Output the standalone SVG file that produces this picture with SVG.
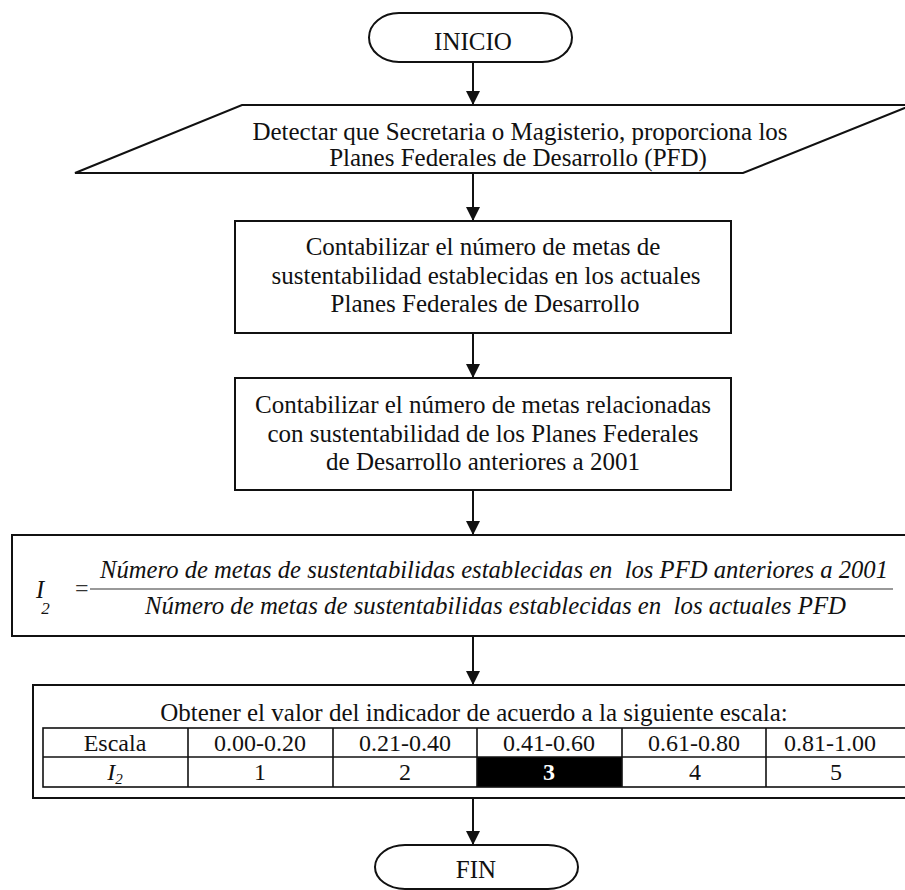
<svg xmlns="http://www.w3.org/2000/svg" width="905" height="890" viewBox="0 0 905 890">
  <defs>
    <marker id="arrow" markerUnits="userSpaceOnUse" markerWidth="14" markerHeight="14" refX="14" refY="7" orient="auto">
      <path d="M0,0 L14,7 L0,14 Z" fill="#111"/>
    </marker>
    <style>
      .shape { fill: #fff; stroke: #111; stroke-width: 2; }
      .cell { fill: none; stroke: #111; stroke-width: 1.6; }
      .txt { font-family: "Liberation Serif", "Times New Roman", serif; font-size: 25px; fill: #111; text-anchor: middle; }
      .tbl { font-family: "Liberation Serif", "Times New Roman", serif; font-size: 24px; fill: #111; text-anchor: middle; }
      .tbl.inv { fill: #fff; font-weight: bold; }
      .frm { font-family: "Liberation Serif", "Times New Roman", serif; font-style: italic; font-size: 24.5px; fill: #111; }
      .conn { stroke: #111; stroke-width: 2; fill: none; marker-end: url(#arrow); }
    </style>
  </defs>
  <rect width="905" height="890" fill="#fff"/>

  <!-- start terminator -->
  <g id="inicio">
    <rect class="shape" x="369" y="13" width="203" height="49" rx="30" ry="24.5"/>
    <text class="txt" x="473" y="50">INICIO</text>
  </g>

  <!-- input: data source -->
  <g id="detectar">
    <polygon class="shape" points="242,105 912,105 743,173 75,173"/>
    <text class="txt" x="520" y="140">Detectar que Secretaria o Magisterio, proporciona los</text>
    <text class="txt" x="518" y="166">Planes Federales de Desarrollo (PFD)</text>
  </g>

  <!-- count current goals -->
  <g id="contar-actuales">
    <rect class="shape" x="235" y="221" width="496" height="112"/>
    <text class="txt" x="483" y="255">Contabilizar el número de metas de</text>
    <text class="txt" x="486" y="284">sustentabilidad establecidas en los actuales</text>
    <text class="txt" x="485" y="312">Planes Federales de Desarrollo</text>
  </g>

  <!-- count previous goals -->
  <g id="contar-anteriores">
    <rect class="shape" x="235" y="378" width="496" height="112"/>
    <text class="txt" x="483" y="413">Contabilizar el número de metas relacionadas</text>
    <text class="txt" x="483" y="442">con sustentabilidad de los Planes Federales</text>
    <text class="txt" x="483" y="470">de Desarrollo anteriores a 2001</text>
  </g>

  <!-- indicator formula -->
  <g id="formula">
    <rect class="shape" x="12" y="535" width="910" height="101"/>
    <text class="frm" x="36" y="598">I<tspan font-size="17px" dx="-3" dy="16">2</tspan></text>
    <text x="75" y="596" font-family="Liberation Serif, serif" font-size="24px" fill="#333">=</text>
    <line x1="90" y1="589" x2="893" y2="589" stroke="#777" stroke-width="1.5"/>
    <text class="frm" x="100" y="578" textLength="788" lengthAdjust="spacingAndGlyphs" xml:space="preserve">Número de metas de sustentabilidas establecidas en  los PFD anteriores a 2001</text>
    <text class="frm" x="145" y="614" textLength="701" lengthAdjust="spacingAndGlyphs" xml:space="preserve">Número de metas de sustentabilidas establecidas en  los actuales PFD</text>
  </g>

  <!-- scale table -->
  <g id="escala">
    <rect class="shape" x="33" y="685" width="890" height="113"/>
    <text class="txt" x="474" y="721">Obtener el valor del indicador de acuerdo a la siguiente escala:</text>
    <rect x="477" y="757" width="145" height="30" fill="#000"/>
    <rect class="cell" x="43" y="728" width="868" height="59"/>
    <line class="cell" x1="43" y1="757" x2="911" y2="757"/>
    <line class="cell" x1="188" y1="728" x2="188" y2="787"/>
    <line class="cell" x1="333" y1="728" x2="333" y2="787"/>
    <line class="cell" x1="477" y1="728" x2="477" y2="787"/>
    <line class="cell" x1="622" y1="728" x2="622" y2="787"/>
    <line class="cell" x1="766" y1="728" x2="766" y2="787"/>
    <text class="tbl" x="115" y="751">Escala</text>
    <text class="tbl" x="260" y="751">0.00-0.20</text>
    <text class="tbl" x="405" y="751">0.21-0.40</text>
    <text class="tbl" x="549" y="751">0.41-0.60</text>
    <text class="tbl" x="694" y="751">0.61-0.80</text>
    <text class="tbl" x="830" y="751">0.81-1.00</text>
    <text class="tbl" x="115" y="780" font-style="italic">I<tspan font-size="15px" dy="4">2</tspan></text>
    <text class="tbl" x="260" y="780">1</text>
    <text class="tbl" x="405" y="780">2</text>
    <text class="tbl inv" x="549" y="780">3</text>
    <text class="tbl" x="695" y="780">4</text>
    <text class="tbl" x="836" y="780">5</text>
  </g>

  <!-- end terminator -->
  <g id="fin">
    <rect class="shape" x="375" y="845" width="203" height="44" rx="30" ry="22"/>
    <text class="txt" x="476" y="878">FIN</text>
  </g>

  <!-- connectors -->
  <g id="connectors">
    <line class="conn" x1="473" y1="62" x2="473" y2="105"/>
    <line class="conn" x1="473" y1="173" x2="473" y2="221"/>
    <line class="conn" x1="473" y1="333" x2="473" y2="378"/>
    <line class="conn" x1="473" y1="490" x2="473" y2="535"/>
    <line class="conn" x1="473" y1="636" x2="473" y2="685"/>
    <line class="conn" x1="473" y1="798" x2="473" y2="845"/>
  </g>
</svg>
